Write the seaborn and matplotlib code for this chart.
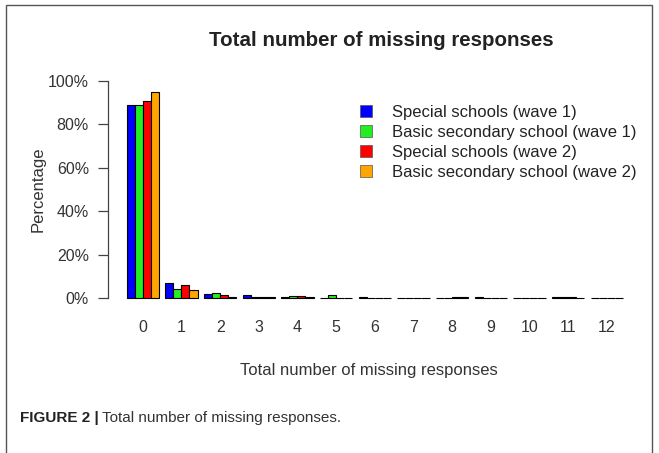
import matplotlib
matplotlib.use("Agg")
import matplotlib.pyplot as plt
import matplotlib.patches as mpatches
import seaborn as sns
import pandas as pd
from matplotlib.ticker import FuncFormatter

# values (percent of respondents)
n_missing = [str(i) for i in range(13)]
special_w1 = [88.9, 6.9, 1.8, 1.5, 0.3, 0.2, 0.6, 0.1, 0.1, 0.5, 0.1, 0.4, 0.1]
basic_w1 = [88.9, 4.1, 2.4, 0.3, 1.0, 1.2, 0.1, 0.1, 0.1, 0.1, 0.1, 0.6, 0.1]
special_w2 = [90.7, 6.0, 1.4, 0.3, 0.8, 0.2, 0.1, 0.1, 0.5, 0.1, 0.1, 0.6, 0.1]
basic_w2 = [94.8, 3.5, 0.4, 0.3, 0.4, 0.1, 0.1, 0.1, 0.3, 0.1, 0.1, 0.1, 0.1]
groups = ["Special schools (wave 1)", "Basic secondary school (wave 1)",
          "Special schools (wave 2)", "Basic secondary school (wave 2)"]
colors = ["#0000FF", "#22EE22", "#FF0000", "#FFA500"]

rows = []
for g, vals in zip(groups, [special_w1, basic_w1, special_w2, basic_w2]):
    for k, v in zip(n_missing, vals):
        rows.append({"missing": k, "pct": v, "group": g})
df = pd.DataFrame(rows)

sns.set_style("white")
plt.rcParams["font.family"] = ["Liberation Sans", "DejaVu Sans"]

fig = plt.figure(figsize=(6.59, 4.53), dpi=100)
W, H = 659, 453
# axes placed in pixel terms
left, right, top, bottom = 108, 630, 72, 306.7
ax = fig.add_axes([left / W, 1 - bottom / H, (right - left) / W, (bottom - top) / H])

sns.barplot(data=df, x="missing", y="pct", hue="group", order=n_missing,
            hue_order=groups, palette=colors, width=0.83, edgecolor="black",
            linewidth=0.8, saturation=1, ax=ax, legend=False)

ax.set_xlim(-0.90, 12.6)
ax.set_ylim(-4, 104)
ax.set_yticks([0, 20, 40, 60, 80, 100])
ax.yaxis.set_major_formatter(FuncFormatter(lambda v, p: f"{int(v)}%"))
for s in ["top", "right", "bottom"]:
    ax.spines[s].set_visible(False)
ax.spines["left"].set_bounds(0, 100)
ax.spines["left"].set_color("#444444")
ax.spines["left"].set_linewidth(0.9)
ax.tick_params(axis="y", which="both", left=True, length=7.2, width=0.9,
               color="#444444", labelsize=11.5, labelcolor="#333333", pad=6.5)
ax.tick_params(axis="x", bottom=False, labelsize=11.5, labelcolor="#333333", pad=6)
ax.set_ylabel("Percentage", fontsize=12, color="#333333", labelpad=2)
ax.set_xlabel("Total number of missing responses", fontsize=12, color="#333333", labelpad=20)

handles = [mpatches.Patch(facecolor=c, edgecolor="#555555", linewidth=0.5, label=g)
           for c, g in zip(colors, groups)]
fig.legend(handles=handles, loc="upper left", bbox_to_anchor=(345 / W, 1 - 90 / H),
           frameon=False, fontsize=12, handlelength=0.7, handleheight=0.7,
           handletextpad=1.2, labelspacing=0.3, labelcolor="#222222")

fig.text(381 / W, 1 - 40 / H, "Total number of missing responses", ha="center",
         va="center", fontsize=14.8, fontweight="bold", color="#222222")

cap = fig.text(20 / W, 1 - 418 / H, "FIGURE 2 |", ha="left", va="center", fontsize=11,
               fontweight="bold", color="#222222")
ax.annotate("Total number of missing responses.", xy=(1, 0.5), xycoords=cap,
            xytext=(2, 0), textcoords="offset points", ha="left", va="center",
            fontsize=11, color="#333333", annotation_clip=False)

# outer frame around the figure panel
frame = mpatches.Rectangle((6 / W, -0.05), (652 - 6) / W, 1.05 - 5 / H,
                           transform=fig.transFigure, fill=False,
                           edgecolor="#555555", linewidth=1.0)
fig.patches.append(frame)

fig.savefig("out.png", dpi=100)
